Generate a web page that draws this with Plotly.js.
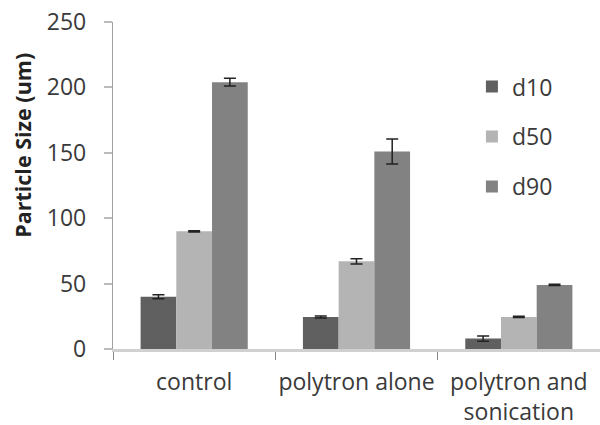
<!DOCTYPE html>
<html>
<head>
<meta charset="utf-8">
<script src="https://cdn.plot.ly/plotly-3.0.1.min.js"></script>
<style>html,body{margin:0;padding:0;background:#fff;}#chart{width:600px;height:425px;}</style>
</head>
<body>
<div id="chart"></div>
<script>
const categories = ["control", "polytron alone", "polytron and<br>sonication"];
const seriesNames = ["d10", "d50", "d90"];
const d10 = [40, 24.5, 8];
const d50 = [90, 67, 24.5];
const d90 = [204, 151, 49];
const d10Err = [1.5, 0.8, 2];
const d50Err = [0.5, 2, 0.5];
const d90Err = [3, 9.5, 0.5];
const yTicks = [0, 50, 100, 150, 200, 250];

const colors = ["#606060", "#b4b4b4", "#828282"];
const values = [d10, d50, d90];
const errs = [d10Err, d50Err, d90Err];

const traces = seriesNames.map((name, i) => ({
  type: "bar",
  name: name,
  x: categories,
  y: values[i],
  legendgroup: name,
  marker: {color: colors[i], line: {width: 0}},
  error_y: {type: "data", array: errs[i], visible: true, color: "#222", thickness: 1.5, width: 6}
}));

const layout = {
  width: 600, height: 425,
  margin: {l: 113, r: 0, t: 22, b: 76},
  paper_bgcolor: "#fff", plot_bgcolor: "#fff",
  font: {family: "Open Sans, sans-serif", size: 23, color: "#3a3a3a"},
  barmode: "group",
  bargap: 0.34,
  bargroupgap: 0,
  showlegend: true,
  legend: {x: 0.737, xanchor: "left", y: 0.868, yanchor: "top", traceorder: "grouped", tracegroupgap: 17,
           font: {size: 23, color: "#3a3a3a"}, bgcolor: "rgba(0,0,0,0)"},
  xaxis: {
    type: "category", tickson: "boundaries", ticks: "outside", ticklen: 8, tickcolor: "#888", tickwidth: 1,
    showline: true, linecolor: "#d0d0d0", linewidth: 3, showgrid: false, zeroline: false,
    tickangle: 0, automargin: false, ticklabelstandoff: 10,
    tickfont: {size: 23, color: "#3a3a3a"}
  },
  yaxis: {
    range: [0, 250], tickvals: yTicks,
    ticktext: yTicks.map(v => v + '<span style="color:rgba(0,0,0,0)">0</span>'),
    ticks: "outside", ticklen: 8, tickcolor: "#bbb", tickwidth: 2,
    showline: true, linecolor: "#a0a0a0", linewidth: 1, showgrid: false, zeroline: false, automargin: false,
    tickfont: {size: 23, color: "#3a3a3a"}
  },
  annotations: [{
    text: "<b>Particle Size (um)</b>", xref: "paper", yref: "paper", x: -0.185, y: 0.624,
    showarrow: false, textangle: -90, font: {size: 21.5, color: "#222"}, xanchor: "center", yanchor: "middle"
  }]
};

Plotly.newPlot("chart", traces, layout, {displayModeBar: false, staticPlot: true});
</script>
</body>
</html>
